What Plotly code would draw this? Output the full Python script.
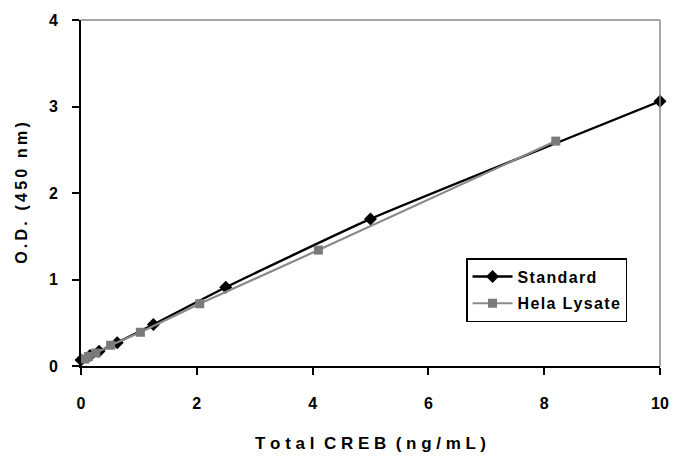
import plotly.graph_objects as go

std_x = [0, 0.156, 0.3125, 0.625, 1.25, 2.5, 5, 10]
std_y = [0.07, 0.12, 0.17, 0.27, 0.48, 0.91, 1.70, 3.06]
hela_x = [0.064, 0.128, 0.256, 0.512, 1.025, 2.05, 4.1, 8.2]
hela_y = [0.08, 0.11, 0.15, 0.24, 0.39, 0.72, 1.34, 2.60]
x_ticks = [0, 2, 4, 6, 8, 10]
y_ticks = [0, 1, 2, 3, 4]

FONT = "Liberation Sans, Arial, sans-serif"
HS = "\u200a"
TS = "\u2009"


def spaced(s, sep):
    return sep.join(list(s))


fig = go.Figure()
fig.add_trace(go.Scatter(
    x=std_x, y=std_y, name="<b>" + spaced("Standard", HS) + "</b>", mode="lines+markers",
    legendgroup="a",
    line=dict(color="black", width=2.4, shape="spline", smoothing=0.4),
    marker=dict(symbol="diamond", size=10, color="black"),
    cliponaxis=False,
))
fig.add_trace(go.Scatter(
    x=hela_x, y=hela_y, name="<b>" + spaced("Hela Lysate", HS) + "</b>", mode="lines+markers",
    legendgroup="b",
    line=dict(color="#8a8a8a", width=2.2),
    marker=dict(symbol="square", size=9, color="#7a7a7a"),
    cliponaxis=False,
))

fig.update_layout(
    width=688, height=456,
    margin=dict(l=73, r=36, t=12, b=98, autoexpand=False),
    paper_bgcolor="white", plot_bgcolor="white",
    font=dict(family=FONT, color="black"),
    showlegend=True,
    legend=dict(
        x=0.665, y=0.312, xanchor="left", yanchor="top",
        bordercolor="black", borderwidth=1.5, bgcolor="white",
        font=dict(family=FONT, size=16, color="black"),
        tracegroupgap=3, itemwidth=40,
    ),
    xaxis=dict(
        range=[0, 10], tickvals=x_ticks, ticktext=[f"<b>{v}</b>" for v in x_ticks],
        showgrid=False, zeroline=False, showline=True, linecolor="black", linewidth=2,
        ticks="outside", ticklen=7, tickwidth=1.5, tickcolor="black",
        tickfont=dict(size=16, family=FONT), ticklabelstandoff=15,
        automargin=False,
        title=dict(text="<b>T o t a l  C R E B  ( n g / m L )</b>", font=dict(size=17, family=FONT), standoff=26),
    ),
    yaxis=dict(
        range=[0, 4], tickvals=y_ticks, ticktext=[f"<b>{v}</b>" for v in y_ticks],
        showgrid=False, zeroline=False, showline=True, linecolor="black", linewidth=2,
        ticks="outside", ticklen=7, tickwidth=1.5, tickcolor="black",
        tickfont=dict(size=16, family=FONT), ticklabelstandoff=11,
        automargin=False,
        title=dict(text="<b>" + spaced("O.D. (450 nm)", TS) + "</b>", font=dict(size=16, family=FONT), standoff=17),
    ),
    shapes=[
        dict(type="line", xref="paper", yref="paper", x0=0, x1=1, y0=1, y1=1,
             line=dict(color="#888888", width=1.5)),
        dict(type="line", xref="paper", yref="paper", x0=1, x1=1, y0=0, y1=1,
             line=dict(color="#888888", width=1.5)),
    ],
)

fig.write_html("out.html")
